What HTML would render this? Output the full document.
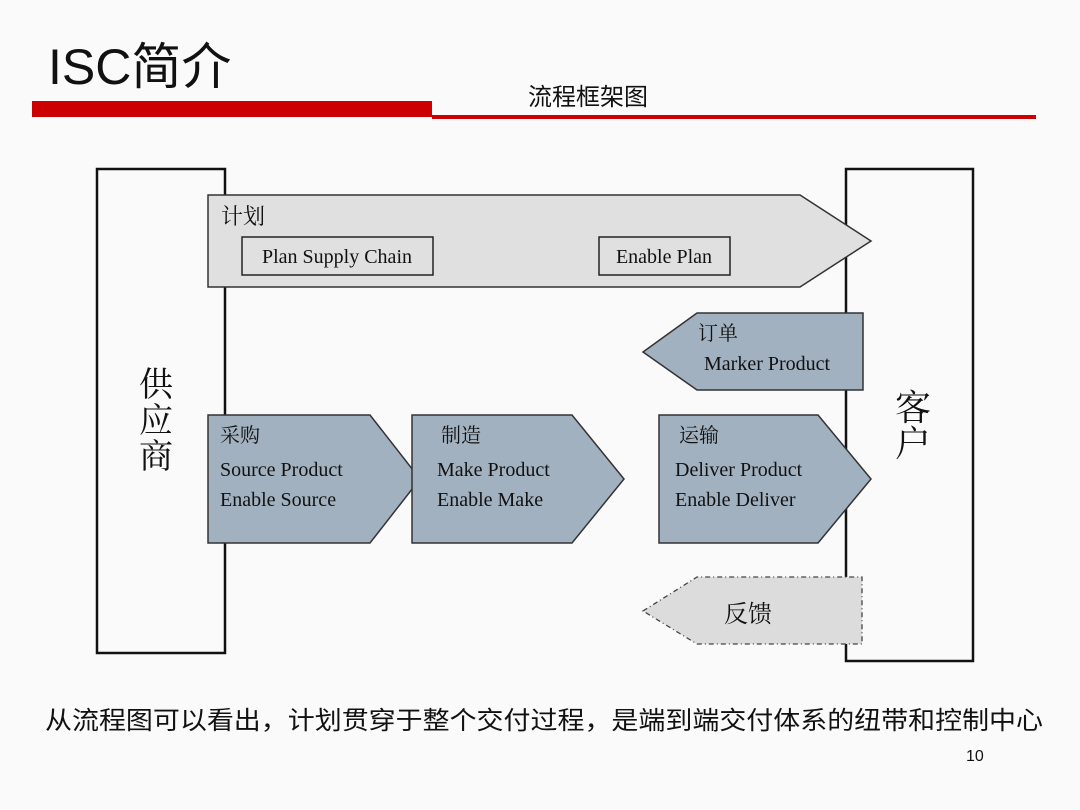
<!DOCTYPE html>
<html><head><meta charset="utf-8"><style>
html,body{margin:0;padding:0;background:#fafafa;}
svg{display:block;}
.s{font-family:"Liberation Serif","Noto Serif CJK SC",serif;fill:#111;}
.k{font-family:"Liberation Sans","Noto Sans CJK SC",sans-serif;fill:#111;}
</style></head><body>
<svg width="1080" height="810" viewBox="0 0 1080 810" xmlns="http://www.w3.org/2000/svg">
<rect width="1080" height="810" fill="#fafafa"/>
<text x="48" y="84" class="k" font-size="50">ISC简介</text>
<text x="528" y="105" class="k" font-size="24">流程框架图</text>
<rect x="32" y="101" width="400" height="16" fill="#cc0000"/>
<rect x="432" y="115" width="604" height="4" fill="#cc0000"/>

<rect x="97" y="169" width="128" height="484" fill="none" stroke="#111" stroke-width="2.5"/>
<rect x="846" y="169" width="127" height="492" fill="none" stroke="#111" stroke-width="2.5"/>
<text x="156" y="396" class="s" font-size="34" text-anchor="middle">供</text>
<text x="156" y="432" class="s" font-size="34" text-anchor="middle">应</text>
<text x="156" y="468" class="s" font-size="34" text-anchor="middle">商</text>
<text x="913" y="420" class="s" font-size="36" text-anchor="middle">客</text>
<text x="913" y="456" class="s" font-size="36" text-anchor="middle">户</text>

<polygon points="208,195 800,195 871,241 800,287 208,287" fill="#e0e0e0" stroke="#333" stroke-width="1.5"/>
<text x="221" y="224" class="s" font-size="22">计划</text>
<rect x="242" y="237" width="191" height="38" fill="none" stroke="#222" stroke-width="1.5"/>
<text x="337" y="263" class="s" font-size="20" text-anchor="middle">Plan Supply Chain</text>
<rect x="599" y="237" width="131" height="38" fill="none" stroke="#222" stroke-width="1.5"/>
<text x="664" y="263" class="s" font-size="20" text-anchor="middle">Enable Plan</text>

<polygon points="643,352 697,313 863,313 863,390 697,390" fill="#a2b1c0" stroke="#333" stroke-width="1.5"/>
<text x="698" y="340" class="s" font-size="20">订单</text>
<text x="704" y="370" class="s" font-size="20">Marker Product</text>

<polygon points="208,415 370,415 420,479 370,543 208,543" fill="#a2b1c0" stroke="#333" stroke-width="1.5"/>
<text x="220" y="442" class="s" font-size="20">采购</text>
<text x="220" y="476" class="s" font-size="20">Source Product</text>
<text x="220" y="506" class="s" font-size="20">Enable Source</text>

<polygon points="412,415 572,415 624,479 572,543 412,543" fill="#a2b1c0" stroke="#333" stroke-width="1.5"/>
<text x="441" y="442" class="s" font-size="20">制造</text>
<text x="437" y="476" class="s" font-size="20">Make Product</text>
<text x="437" y="506" class="s" font-size="20">Enable Make</text>

<polygon points="659,415 818,415 871,479 818,543 659,543" fill="#a2b1c0" stroke="#333" stroke-width="1.5"/>
<text x="679" y="442" class="s" font-size="20">运输</text>
<text x="675" y="476" class="s" font-size="20">Deliver Product</text>
<text x="675" y="506" class="s" font-size="20">Enable Deliver</text>

<polygon points="643,611 697,577 862,577 862,644 697,644" fill="#dcdcdc" stroke="#444" stroke-width="1.3" stroke-dasharray="5,3,1,3"/>
<text x="748" y="622" class="s" font-size="24" text-anchor="middle">反馈</text>

<text x="45" y="729" class="k" font-size="25" textLength="998" lengthAdjust="spacingAndGlyphs">从流程图可以看出，计划贯穿于整个交付过程，是端到端交付体系的纽带和控制中心</text>
<text x="966" y="761" class="k" font-size="16">10</text>
</svg>
</body></html>
